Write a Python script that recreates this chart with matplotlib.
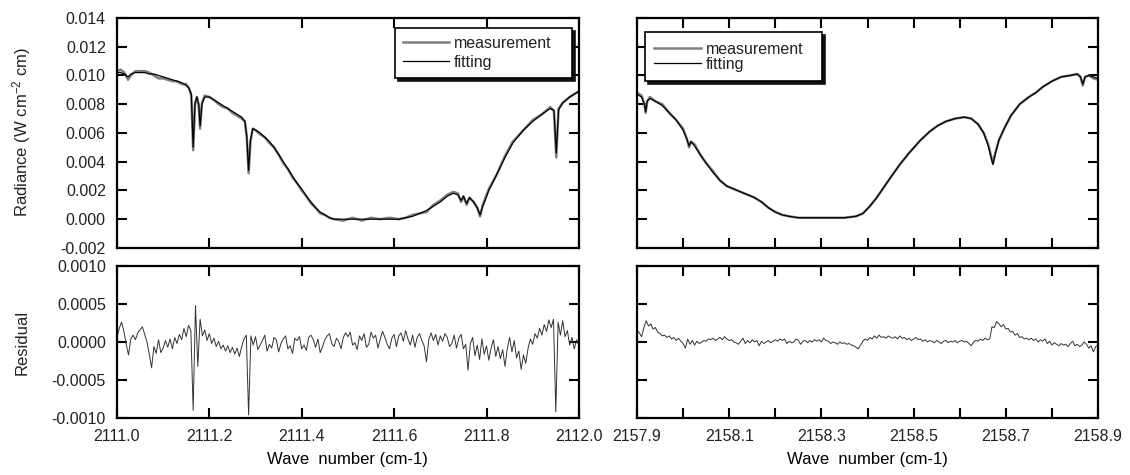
import matplotlib.pyplot as plt
import numpy as np

plt.rcParams['font.family'] = ['Liberation Sans', 'DejaVu Sans']
plt.rcParams['mathtext.default'] = 'regular'
plt.rcParams['axes.unicode_minus'] = False
plt.rcParams['font.size'] = 11.5
plt.rcParams['text.color'] = '#222222'

# ---- band 1: 2111 cm-1 window ----
w1 = [2111.000, 2111.008, 2111.016, 2111.024, 2111.030, 2111.040, 2111.050, 2111.060,
      2111.070, 2111.080, 2111.090, 2111.100, 2111.110, 2111.120, 2111.130, 2111.140,
      2111.150, 2111.156, 2111.161, 2111.165, 2111.169, 2111.173, 2111.177, 2111.180,
      2111.184, 2111.190, 2111.200, 2111.210, 2111.220, 2111.230, 2111.240, 2111.250,
      2111.260, 2111.270, 2111.277, 2111.281, 2111.285, 2111.289, 2111.294, 2111.300,
      2111.310, 2111.320, 2111.330, 2111.340, 2111.350, 2111.360, 2111.370, 2111.380,
      2111.390, 2111.400, 2111.410, 2111.420, 2111.430, 2111.440, 2111.450, 2111.460,
      2111.470, 2111.490, 2111.510, 2111.530, 2111.550, 2111.570, 2111.590, 2111.610,
      2111.625, 2111.640, 2111.655, 2111.670, 2111.685, 2111.700, 2111.715, 2111.728,
      2111.738, 2111.745, 2111.750, 2111.757, 2111.763, 2111.772, 2111.780, 2111.786,
      2111.792, 2111.805, 2111.822, 2111.840, 2111.857, 2111.880, 2111.900, 2111.920,
      2111.938, 2111.946, 2111.951, 2111.956, 2111.965, 2111.980, 2112.000]
fit1 = [0.0102, 0.0102, 0.0101, 0.0099, 0.0101, 0.0102, 0.0102, 0.0102,
        0.0101, 0.0101, 0.0100, 0.0099, 0.0098, 0.0097, 0.0096, 0.0095,
        0.0093, 0.0091, 0.0087, 0.0050, 0.0081, 0.0085, 0.0080, 0.0065,
        0.0080, 0.0085, 0.0085, 0.0083, 0.0081, 0.0079, 0.0077, 0.0075,
        0.0073, 0.0071, 0.0068, 0.0058, 0.0034, 0.0055, 0.0063, 0.0062,
        0.0060, 0.0057, 0.0054, 0.0050, 0.0045, 0.0040, 0.0035, 0.0030,
        0.0025, 0.0021, 0.0016, 0.0012, 0.0008, 0.0005, 0.0003, 0.0001,
        0.0000, 0.0000, 0.0000, 0.0000, 0.0000, 0.0000, 0.0000, 0.0000,
        0.0001, 0.0002, 0.0004, 0.0006, 0.0009, 0.0012, 0.0016, 0.0018,
        0.0017, 0.0013, 0.0016, 0.0011, 0.0015, 0.0012, 0.0008, 0.0003,
        0.0009, 0.0020, 0.0031, 0.0043, 0.0053, 0.0062, 0.0068, 0.0073,
        0.0077, 0.0076, 0.0046, 0.0076, 0.0081, 0.0085, 0.0089]
meas1 = [0.0103, 0.0104, 0.0102, 0.0097, 0.0100, 0.0103, 0.0103, 0.0103,
         0.0102, 0.0100, 0.0098, 0.0098, 0.0097, 0.0096, 0.0096, 0.0094,
         0.0094, 0.0091, 0.0086, 0.0048, 0.0080, 0.0085, 0.0079, 0.0063,
         0.0081, 0.0086, 0.0085, 0.0083, 0.0080, 0.0078, 0.0077, 0.0074,
         0.0072, 0.0070, 0.0068, 0.0057, 0.0032, 0.0054, 0.0063, 0.0062,
         0.0059, 0.0057, 0.0053, 0.0050, 0.0045, 0.0039, 0.0035, 0.0029,
         0.0025, 0.0020, 0.0016, 0.0011, 0.0008, 0.0004, 0.0003, 0.0001,
         0.0000, -0.0001, 0.0001, -0.0001, 0.0001, 0.0000, 0.0001, 0.0000,
         0.0001, 0.0003, 0.0004, 0.0005, 0.0010, 0.0013, 0.0017, 0.0019,
         0.0018, 0.0012, 0.0016, 0.0010, 0.0015, 0.0012, 0.0008, 0.0002,
         0.0010, 0.0021, 0.0031, 0.0044, 0.0054, 0.0062, 0.0069, 0.0073,
         0.0078, 0.0075, 0.0043, 0.0077, 0.0081, 0.0085, 0.0089]

# residual, units of 1e-4, sampled every 0.005 cm-1 from 2111.000
res1 = [0.6, 1.8, 2.6, 1.4, -0.3, -1.7, 0.4, 0.9, 0.3, 1.2,
        1.6, 2.0, 1.0, 0.0, -1.6, -3.4, -0.6, -1.5, 0.3, -1.4,
        -0.8, 0.2, -0.7, 0.4, -0.9, 0.6, -0.2, 1.0, 0.3, 1.8,
        0.7, 2.2, 1.5, -9.0, 4.8, -3.2, 3.0, 0.8, 1.6, 0.2,
        1.1, -0.2, 0.5, -0.6, 0.1, -0.9, -0.4, -1.2, -0.5, -1.4,
        -0.7, -1.6, -0.8, -1.9, -0.6, 0.4, 0.9, -9.6, 0.8, -0.4,
        0.7, -1.0, -0.4, 0.2, 0.9, -1.2, -0.3, -0.8, 0.6, 0.3,
        -1.3, -0.2, 0.4, 0.8, -0.9, -0.5, -1.5, 0.5, 0.2, 0.7,
        -0.9, -0.4, -1.1, 0.6, 0.9, 0.3, -0.7, 0.4, -1.4, -0.6,
        0.3, 0.8, 1.1, -0.2, -0.6, 0.5, 0.1, -0.9, 0.6, 1.2,
        0.7, 1.3, -0.4, -0.1, -1.0, 0.8, 0.2, 1.1, -0.7, -0.3,
        1.3, 0.5, 0.9, -0.8, 0.4, 1.4, 0.6, -0.3, -0.9, 0.5,
        1.0, -0.6, 0.8, 1.2, 0.1, 1.5, 0.4, -0.4, 0.9, -0.7,
        0.6, 1.1, 0.2, -0.5, -2.6, 0.3, 1.2, 0.2, 1.0, -0.4,
        0.8, 0.1, 1.1, 0.6, -0.6, -0.2, 0.9, -0.8, 0.5, 1.0,
        -0.9, -0.3, -3.7, -0.2, 0.6, -1.8, -0.4, -2.3, 0.4, -1.6,
        -0.5, -2.4, -0.8, 0.3, -1.9, -0.6, -2.2, -1.0, -3.2, -0.9,
        0.6, -1.3, 0.2, -2.1, -1.2, -3.6, -1.7, -2.8, -0.8, 0.4,
        -0.3, 1.1, 0.5, 1.8, 0.9, 2.3, 1.4, 2.9, 1.9, 3.0,
        -9.2, 2.6, 0.9, 2.8, 0.7, 1.5, -0.4, 0.6, -0.9, 0.3,
        -0.5]

# ---- band 2: 2158 cm-1 window ----
w2 = [2157.900, 2157.910, 2157.916, 2157.919, 2157.922, 2157.928, 2157.940, 2157.955,
      2157.970, 2157.985, 2158.000, 2158.008, 2158.013, 2158.017, 2158.025, 2158.037,
      2158.050, 2158.066, 2158.080, 2158.095, 2158.110, 2158.125, 2158.140, 2158.155,
      2158.170, 2158.185, 2158.200, 2158.215, 2158.230, 2158.250, 2158.300, 2158.350,
      2158.375, 2158.390, 2158.405, 2158.420, 2158.435, 2158.450, 2158.470, 2158.490,
      2158.515, 2158.535, 2158.552, 2158.570, 2158.590, 2158.610, 2158.625, 2158.640,
      2158.652, 2158.662, 2158.668, 2158.672, 2158.677, 2158.685, 2158.698, 2158.711,
      2158.730, 2158.750, 2158.765, 2158.780, 2158.800, 2158.820, 2158.840, 2158.855,
      2158.862, 2158.867, 2158.872, 2158.880, 2158.890, 2158.900]
fit2 = [0.0087, 0.0085, 0.0080, 0.0075, 0.0082, 0.0084, 0.0082, 0.0079,
        0.0074, 0.0069, 0.0062, 0.0056, 0.0051, 0.0054, 0.0051, 0.0045,
        0.0039, 0.0032, 0.0027, 0.0023, 0.0021, 0.0019, 0.0017, 0.0015,
        0.0012, 0.0008, 0.0005, 0.0003, 0.0002, 0.0001, 0.0001, 0.0001,
        0.0002, 0.0004, 0.0009, 0.0015, 0.0022, 0.0029, 0.0038, 0.0046,
        0.0055, 0.0061, 0.0065, 0.0068, 0.0070, 0.0071, 0.0070, 0.0066,
        0.0060, 0.0051, 0.0043, 0.0038, 0.0045, 0.0055, 0.0064, 0.0072,
        0.0080, 0.0085, 0.0088, 0.0092, 0.0096, 0.0099, 0.0100, 0.0101,
        0.0099, 0.0094, 0.0099, 0.0100, 0.0099, 0.0098]
meas2 = [0.0088, 0.0086, 0.0080, 0.0074, 0.0082, 0.0085, 0.0082, 0.0080,
         0.0074, 0.0069, 0.0063, 0.0056, 0.0050, 0.0054, 0.0052, 0.0045,
         0.0039, 0.0033, 0.0027, 0.0023, 0.0021, 0.0019, 0.0017, 0.0015,
         0.0012, 0.0008, 0.0005, 0.0003, 0.0002, 0.0001, 0.0001, 0.0001,
         0.0002, 0.0004, 0.0009, 0.0015, 0.0022, 0.0029, 0.0038, 0.0046,
         0.0055, 0.0061, 0.0065, 0.0068, 0.0070, 0.0071, 0.0070, 0.0066,
         0.0060, 0.0052, 0.0044, 0.0039, 0.0046, 0.0055, 0.0064, 0.0072,
         0.0080, 0.0085, 0.0088, 0.0092, 0.0096, 0.0099, 0.0100, 0.0101,
         0.0099, 0.0093, 0.0099, 0.0100, 0.0098, 0.0097]

# residual, units of 1e-4, sampled every 0.005 cm-1 from 2157.900
res2 = [1.6, 1.2, 0.7, 1.9, 2.8, 2.1, 2.4, 1.7, 1.9, 1.3,
        1.1, 0.8, 0.9, 0.6, 0.8, 0.4, 0.6, 0.2, 0.5, 0.1,
        -0.2, -0.8, 0.4, -0.3, 0.2, -0.4, 0.1, -0.2, 0.0, 0.2,
        0.1, 0.4, 0.3, 0.5, 0.2, 0.4, 0.6, 0.3, 0.7, 0.4,
        0.2, 0.3, 0.0, -0.1, -0.3, 0.1, 0.5, -0.2, 0.2, -0.1,
        0.3, 0.0, 0.2, -0.5, 0.1, -0.2, 0.0, 0.2, -0.1, 0.1,
        0.3, 0.1, 0.4, 0.2, 0.4, -0.2, 0.1, -0.1, 0.0, 0.4,
        0.2, -0.3, 0.1, 0.2, -0.1, 0.2, 0.0, 0.3, 0.1, 0.3,
        0.0, 0.5, 0.2, 0.1, -0.2, 0.0, -0.1, -0.3, 0.0, -0.2,
        -0.1, -0.3, -0.2, -0.4, -0.5, -0.7, -0.9, -0.4, 0.1, 0.4,
        0.2, 0.6, 0.4, 0.8, 0.5, 0.9, 0.6, 0.7, 0.5, 0.8,
        0.6, 0.5, 0.7, 0.4, 0.8, 0.5, 0.6, 0.3, 0.5, 0.2,
        0.4, 0.6, 0.3, 0.4, 0.1, 0.3, 0.0, 0.2, 0.1, -0.1,
        0.2, 0.0, -0.2, 0.1, 0.2, -0.1, 0.1, 0.0, 0.2, -0.1,
        0.1, 0.2, 0.0, 0.1, -0.2, -0.5, 0.0, 0.2, 0.1, 0.4,
        0.2, 0.5, 0.3, 0.4, 2.0, 1.9, 2.7, 2.4, 2.0, 2.3,
        1.7, 1.8, 1.3, 1.4, 0.9, 1.1, 0.6, 0.7, 0.4, 0.5,
        0.3, 0.5, 0.2, 0.4, 0.0, 0.3, 0.1, 0.4, -0.2, 0.1,
        -0.4, -0.1, -0.3, -0.5, -0.2, -0.4, -0.3, -0.6, -0.2, 0.1,
        -0.5, -0.3, -0.6, -0.4, 0.0, -0.3, -0.8, -0.5, -1.3, -0.6,
        -0.4]

rx1 = np.linspace(2111.0, 2112.0, len(res1))
rx2 = np.linspace(2157.9, 2158.9, len(res2))

fig = plt.figure(figsize=(11.3, 4.75), dpi=100)
ax1 = fig.add_axes([0.1035, 0.478, 0.4088, 0.4842])
ax2 = fig.add_axes([0.5637, 0.478, 0.408, 0.4842])
ax3 = fig.add_axes([0.1035, 0.12, 0.4088, 0.32])
ax4 = fig.add_axes([0.5637, 0.12, 0.408, 0.32])

meas_kw = dict(color='#7f7f7f', lw=1.8)
fit_kw = dict(color='black', lw=0.9)
res_kw = dict(color='#333333', lw=0.7)

ax1.plot(w1, meas1, label='measurement', **meas_kw)
ax1.plot(w1, fit1, label='fitting', **fit_kw)
ax2.plot(w2, meas2, label='measurement', **meas_kw)
ax2.plot(w2, fit2, label='fitting', **fit_kw)
ax3.plot(rx1, np.array(res1) * 1e-4, **res_kw)
ax4.plot(rx2, np.array(res2) * 1e-4, **res_kw)

for ax in (ax1, ax2):
    ax.set_ylim(-0.002, 0.014)
    ax.set_yticks(np.arange(-0.002, 0.0141, 0.002))
    ax.yaxis.set_major_formatter(plt.FormatStrFormatter('%.3f'))
for ax in (ax3, ax4):
    ax.set_ylim(-0.001, 0.001)
    ax.set_yticks(np.arange(-0.001, 0.00101, 0.0005))
    ax.yaxis.set_major_formatter(plt.FormatStrFormatter('%.4f'))

for ax in (ax1, ax3):
    ax.set_xlim(2111.0, 2112.0)
    ax.set_xticks(np.arange(2111.0, 2112.01, 0.2))
    ax.xaxis.set_major_formatter(plt.FormatStrFormatter('%.1f'))

xt2 = np.arange(2157.9, 2158.91, 0.1)
xl2 = ['%.1f' % v if i % 2 == 0 else '' for i, v in enumerate(xt2)]
for ax in (ax2, ax4):
    ax.set_xlim(2157.9, 2158.9)
    ax.set_xticks(xt2)
    ax.set_xticklabels(xl2)

for ax in (ax1, ax2, ax3, ax4):
    ax.tick_params(direction='in', length=7, width=1.5, top=True, right=True,
                   pad=8, labelsize=11.5, labelcolor='#222222')
    for s in ax.spines.values():
        s.set_linewidth(1.6)

ax1.tick_params(labelbottom=False)
ax2.tick_params(labelbottom=False, labelleft=False)
ax4.tick_params(labelleft=False)

fig.text(0.0195, 0.722, 'Radiance (W cm$^{-2}$ cm)', rotation=90, ha='center', va='center', fontsize=12)
fig.text(0.0195, 0.28, 'Residual', rotation=90, ha='center', va='center', fontsize=12)
ax3.set_xlabel('Wave  number (cm-1)', fontsize=12, labelpad=6)
ax4.set_xlabel('Wave  number (cm-1)', fontsize=12, labelpad=6)

shadow = {'ox': 2, 'oy': -2, 'color': '#111111', 'alpha': 1.0}
leg_kw = dict(loc='upper left', mode='expand', fancybox=False, shadow=shadow,
              edgecolor='black', framealpha=1, fontsize=11.5, handlelength=2.9,
              handletextpad=0.3, borderaxespad=0)
leg1 = ax1.legend(bbox_to_anchor=(0.602, 0.73, 0.383, 0.227), labelspacing=0.25,
                  borderpad=0.5, **leg_kw)
leg2 = ax2.legend(bbox_to_anchor=(0.017, 0.73, 0.384, 0.209), labelspacing=0.0,
                  borderpad=0.6, **leg_kw)
for leg in (leg1, leg2):
    leg.get_frame().set_linewidth(1.2)

fig.savefig('out.png', dpi=100)
